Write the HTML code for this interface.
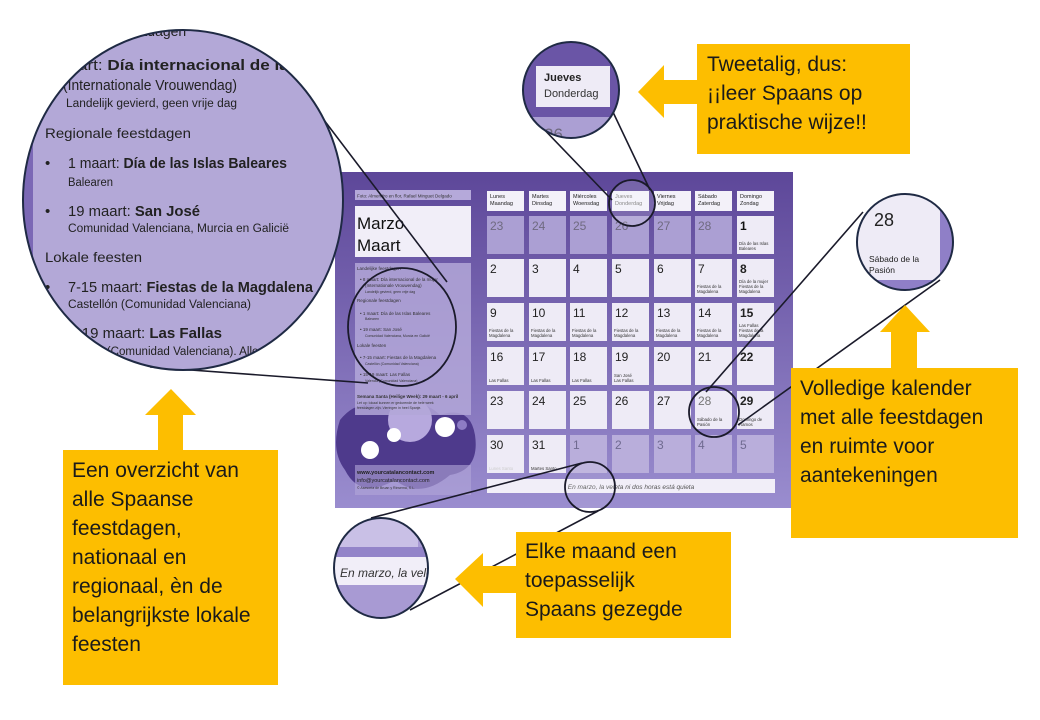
<!DOCTYPE html>
<html><head><meta charset="utf-8"><style>
html,body{margin:0;padding:0;background:#fff;}
svg{display:block;font-family:"Liberation Sans",sans-serif;}
</style></head><body>
<svg width="1040" height="720" viewBox="0 0 1040 720" xmlns="http://www.w3.org/2000/svg">
<defs>
<linearGradient id="cal" x1="0" y1="0" x2="0" y2="1">
<stop offset="0" stop-color="#5d4799"/><stop offset="1" stop-color="#9a8dcf"/>
</linearGradient>
<clipPath id="bigc"><ellipse cx="183" cy="200" rx="160" ry="170"/></clipPath>
<clipPath id="jc"><circle cx="571" cy="90" r="48"/></clipPath>
<clipPath id="sc"><circle cx="905" cy="242" r="48"/></clipPath>
<clipPath id="mc"><ellipse cx="381" cy="568" rx="47" ry="50"/></clipPath>
</defs>

<rect x="335" y="172" width="458" height="336" fill="url(#cal)"/>
<g>
<path d="M340 420 Q360 395 390 410 Q420 395 440 415 Q470 405 475 435 Q480 470 450 475 Q420 500 395 480 Q360 500 345 470 Q330 450 340 420Z" fill="#4e3a8c"/>
<circle cx="410" cy="420" r="22" fill="#b7a9de"/>
<circle cx="445" cy="427" r="10" fill="#fff"/>
<circle cx="370" cy="450" r="9" fill="#fff"/>
<circle cx="394" cy="435" r="7" fill="#fff"/>
<circle cx="462" cy="425" r="5" fill="#8d7cc4"/>
</g>
<rect x="355" y="190" width="116" height="10" fill="#b5a9da"/>
<text x="357" y="197.5" font-size="4.5" fill="#333">Foto: Almendro en flor, Rafael Minguet Delgado</text>
<rect x="355" y="206" width="116" height="51" fill="#f1eef8"/>
<text x="357" y="229" font-size="17" fill="#111">Marzo</text>
<text x="357" y="251" font-size="17" fill="#111">Maart</text>
<rect x="355" y="263" width="116" height="152" fill="#b3a7d8" opacity="0.85"/>
<g font-size="4.5" fill="#333">
<text x="357" y="270">Landelijke feestdagen</text>
<text x="360" y="281">• 8 maart: Día internacional de la mujer</text>
<text x="365" y="287">(Internationale Vrouwendag)</text>
<text x="365" y="293" font-size="3.5">Landelijk gevierd, geen vrije dag</text>
<text x="357" y="302">Regionale feestdagen</text>
<text x="360" y="315">• 1 maart: Día de las Islas Baleares</text>
<text x="365" y="320" font-size="3.5">Balearen</text>
<text x="360" y="331">• 19 maart: San José</text>
<text x="365" y="337" font-size="3.5">Comunidad Valenciana, Murcia en Galicië</text>
<text x="357" y="347">Lokale feesten</text>
<text x="360" y="359">• 7-15 maart: Fiestas de la Magdalena</text>
<text x="365" y="365" font-size="3.5">Castellón (Comunidad Valenciana)</text>
<text x="360" y="376">• 15-19 maart: Las Fallas</text>
<text x="365" y="382" font-size="3.5">Valencia (Comunidad Valenciana)</text>
<text x="357" y="398" font-weight="bold">Semana Santa (Heilige Week): 29 maart - 6 april</text>
<text x="357" y="404" font-size="3.5">Let op: lokaal kunnen er gedurende de hele week</text>
<text x="357" y="409" font-size="3.5">feestdagen zijn. Vieringen in heel Spanje.</text>
</g>
<rect x="355" y="465" width="116" height="30" fill="#b3a7d8" opacity="0.6"/>
<text x="357" y="474" font-size="5.5" font-weight="bold" fill="#222">www.yourcatalancontact.com</text>
<text x="357" y="482" font-size="5.5" fill="#222">info@yourcatalancontact.com</text>
<text x="357" y="489" font-size="3.5" fill="#333">© Asesoría de Bruan y Rinsema, S.L.</text>

<g font-size="5.5" fill="#222">
<rect x="487" y="191" width="37" height="20" fill="#f3f1f9"/><text x="490" y="198">Lunes</text><text x="490" y="205">Maandag</text>
<rect x="529" y="191" width="37" height="20" fill="#f3f1f9"/><text x="532" y="198">Martes</text><text x="532" y="205">Dinsdag</text>
<rect x="570" y="191" width="37" height="20" fill="#f3f1f9"/><text x="573" y="198">Miércoles</text><text x="573" y="205">Woensdag</text>
<rect x="612" y="191" width="37" height="20" fill="#f3f1f9"/><text x="615" y="198" fill="#777">Jueves</text><text x="615" y="205" fill="#777">Donderdag</text>
<rect x="654" y="191" width="37" height="20" fill="#f3f1f9"/><text x="657" y="198">Viernes</text><text x="657" y="205">Vrijdag</text>
<rect x="695" y="191" width="37" height="20" fill="#f3f1f9"/><text x="698" y="198">Sábado</text><text x="698" y="205">Zaterdag</text>
<rect x="737" y="191" width="37" height="20" fill="#f3f1f9"/><text x="740" y="198">Domingo</text><text x="740" y="205">Zondag</text>
</g>
<g font-size="12">
<g fill="#ab9fd3"><rect x="487" y="216" width="37" height="38"/><rect x="529" y="216" width="37" height="38"/><rect x="570" y="216" width="37" height="38"/><rect x="612" y="216" width="37" height="38"/><rect x="654" y="216" width="37" height="38"/><rect x="695" y="216" width="37" height="38"/></g>
<rect x="737" y="216" width="37" height="38" fill="#eeebf6"/>
<g fill="#6f6a80"><text x="490" y="230">23</text><text x="532" y="230">24</text><text x="573" y="230">25</text><text x="615" y="230">26</text><text x="657" y="230">27</text><text x="698" y="230">28</text></g>
<text x="740" y="230" font-weight="bold" fill="#111">1</text>
<g fill="#eeebf6">
<rect x="487" y="259" width="37" height="38"/><rect x="529" y="259" width="37" height="38"/><rect x="570" y="259" width="37" height="38"/><rect x="612" y="259" width="37" height="38"/><rect x="654" y="259" width="37" height="38"/><rect x="695" y="259" width="37" height="38"/><rect x="737" y="259" width="37" height="38"/>
<rect x="487" y="303" width="37" height="38"/><rect x="529" y="303" width="37" height="38"/><rect x="570" y="303" width="37" height="38"/><rect x="612" y="303" width="37" height="38"/><rect x="654" y="303" width="37" height="38"/><rect x="695" y="303" width="37" height="38"/><rect x="737" y="303" width="37" height="38"/>
<rect x="487" y="347" width="37" height="38"/><rect x="529" y="347" width="37" height="38"/><rect x="570" y="347" width="37" height="38"/><rect x="612" y="347" width="37" height="38"/><rect x="654" y="347" width="37" height="38"/><rect x="695" y="347" width="37" height="38"/><rect x="737" y="347" width="37" height="38"/>
<rect x="487" y="391" width="37" height="38"/><rect x="529" y="391" width="37" height="38"/><rect x="570" y="391" width="37" height="38"/><rect x="612" y="391" width="37" height="38"/><rect x="654" y="391" width="37" height="38"/><rect x="695" y="391" width="37" height="38"/><rect x="737" y="391" width="37" height="38"/>
<rect x="487" y="435" width="37" height="38"/><rect x="529" y="435" width="37" height="38"/>
</g>
<g fill="#b9aedb"><rect x="570" y="435" width="37" height="38"/><rect x="612" y="435" width="37" height="38"/><rect x="654" y="435" width="37" height="38"/><rect x="695" y="435" width="37" height="38"/><rect x="737" y="435" width="37" height="38"/></g>
<g fill="#222">
<text x="490" y="273">2</text><text x="532" y="273">3</text><text x="573" y="273">4</text><text x="615" y="273">5</text><text x="657" y="273">6</text><text x="698" y="273">7</text><text x="740" y="273" font-weight="bold">8</text>
<text x="490" y="317">9</text><text x="532" y="317">10</text><text x="573" y="317">11</text><text x="615" y="317">12</text><text x="657" y="317">13</text><text x="698" y="317">14</text><text x="740" y="317" font-weight="bold">15</text>
<text x="490" y="361">16</text><text x="532" y="361">17</text><text x="573" y="361">18</text><text x="615" y="361">19</text><text x="657" y="361">20</text><text x="698" y="361">21</text><text x="740" y="361" font-weight="bold">22</text>
<text x="490" y="405">23</text><text x="532" y="405">24</text><text x="573" y="405">25</text><text x="615" y="405">26</text><text x="657" y="405">27</text><text x="698" y="405" fill="#777">28</text><text x="740" y="405" font-weight="bold">29</text>
<text x="490" y="449">30</text><text x="532" y="449">31</text>
</g>
<g fill="#6f6a90"><text x="573" y="449">1</text><text x="615" y="449">2</text><text x="657" y="449">3</text><text x="698" y="449">4</text><text x="740" y="449">5</text></g>
</g>
<g font-size="4.3" fill="#333">
<text x="739" y="245">Día de las Islas</text><text x="739" y="250">Baleares</text>
<text x="697" y="288">Fiestas de la</text><text x="697" y="293">Magdalena</text>
<text x="739" y="283">Día de la mujer</text><text x="739" y="288">Fiestas de la</text><text x="739" y="293">Magdalena</text>
<text x="489" y="332">Fiestas de la</text><text x="489" y="337">Magdalena</text>
<text x="531" y="332">Fiestas de la</text><text x="531" y="337">Magdalena</text>
<text x="572" y="332">Fiestas de la</text><text x="572" y="337">Magdalena</text>
<text x="614" y="332">Fiestas de la</text><text x="614" y="337">Magdalena</text>
<text x="656" y="332">Fiestas de la</text><text x="656" y="337">Magdalena</text>
<text x="697" y="332">Fiestas de la</text><text x="697" y="337">Magdalena</text>
<text x="739" y="327">Las Fallas</text><text x="739" y="332">Fiestas de la</text><text x="739" y="337">Magdalena</text>
<text x="489" y="382">Las Fallas</text><text x="531" y="382">Las Fallas</text><text x="572" y="382">Las Fallas</text>
<text x="614" y="377">San José</text><text x="614" y="382">Las Fallas</text>
<text x="697" y="421">Sábado de la</text><text x="697" y="426">Pasión</text>
<text x="739" y="421">Domingo de</text><text x="739" y="426">Ramos</text>
<text x="489" y="470" fill="#ccc">Lunes Santo</text><text x="531" y="470">Martes Santo</text>
</g>
<rect x="487" y="479" width="288" height="14" fill="#f1eef8"/>
<text x="631" y="489" font-size="6.5" font-style="italic" fill="#555" text-anchor="middle">En marzo, la veleta ni dos horas está quieta</text>

<g fill="none" stroke="#1a1a2a" stroke-width="1.8">
<circle cx="632" cy="203" r="23" fill="#fff" fill-opacity="0.15"/>
<ellipse cx="402" cy="327" rx="54" ry="59"/>
<circle cx="714" cy="412" r="25"/>
<circle cx="590" cy="487" r="25" fill="#fff" fill-opacity="0.1"/>
</g>

<g stroke="#1a1a2a" stroke-width="1.6" fill="none">
<line x1="305" y1="95" x2="447" y2="282"/>
<line x1="150" y1="367" x2="368" y2="383"/>
<line x1="537" y1="122" x2="612" y2="200"/>
<line x1="612" y1="110" x2="650" y2="190"/>
<line x1="706" y1="392" x2="863" y2="212"/>
<line x1="738" y1="425" x2="940" y2="280"/>
<line x1="371" y1="518" x2="582" y2="463"/>
<line x1="410" y1="610" x2="598" y2="511"/>
</g>

<g clip-path="url(#bigc)">
<rect x="0" y="0" width="400" height="400" fill="#b3a8d7"/>
<rect x="0" y="0" width="33" height="400" fill="#7b68b5"/>
<g fill="#222" font-size="15">
<text x="50" y="36" font-size="14">Landelijke feestdagen</text>
<text x="40" y="70" textLength="300" lengthAdjust="spacingAndGlyphs">8 maart: <tspan font-weight="bold">Día internacional de la mujer</tspan></text>
<text x="63" y="90" textLength="174" lengthAdjust="spacingAndGlyphs">(Internationale Vrouwendag)</text>
<text x="66" y="107" font-size="11.5" textLength="171" lengthAdjust="spacingAndGlyphs">Landelijk gevierd, geen vrije dag</text>
<text x="45" y="138" font-size="14" textLength="146" lengthAdjust="spacingAndGlyphs">Regionale feestdagen</text>
<text x="45" y="168">•</text><text x="68" y="168" textLength="219" lengthAdjust="spacingAndGlyphs">1 maart: <tspan font-weight="bold">Día de las Islas Baleares</tspan></text>
<text x="68" y="186" font-size="11.5" textLength="45" lengthAdjust="spacingAndGlyphs">Balearen</text>
<text x="45" y="216">•</text><text x="68" y="216" textLength="132" lengthAdjust="spacingAndGlyphs">19 maart: <tspan font-weight="bold">San José</tspan></text>
<text x="68" y="232" font-size="11.5" textLength="221" lengthAdjust="spacingAndGlyphs">Comunidad Valenciana, Murcia en Galicië</text>
<text x="45" y="262" font-size="14" textLength="97" lengthAdjust="spacingAndGlyphs">Lokale feesten</text>
<text x="45" y="292">•</text><text x="68" y="292" textLength="245" lengthAdjust="spacingAndGlyphs">7-15 maart: <tspan font-weight="bold">Fiestas de la Magdalena</tspan></text>
<text x="68" y="308" font-size="11.5" textLength="183" lengthAdjust="spacingAndGlyphs">Castellón (Comunidad Valenciana)</text>
<text x="45" y="338">•</text><text x="60" y="338" textLength="162" lengthAdjust="spacingAndGlyphs">15-19 maart: <tspan font-weight="bold">Las Fallas</tspan></text>
<text x="60" y="355" font-size="11.5" textLength="250" lengthAdjust="spacingAndGlyphs">Valencia (Comunidad Valenciana). Alleen de 19e</text>
</g>
</g>
<ellipse cx="183" cy="200" rx="160" ry="170" fill="none" stroke="#1f2a44" stroke-width="2"/>

<g clip-path="url(#jc)">
<rect x="520" y="40" width="105" height="102" fill="#6a55a6"/>
<rect x="536" y="66" width="74" height="41" fill="#eeebf6"/>
<text x="544" y="81" font-size="11" font-weight="bold" fill="#222">Jueves</text>
<text x="544" y="97" font-size="11" fill="#333">Donderdag</text>
<rect x="520" y="117" width="105" height="30" fill="#ab9fd3"/>
<text x="544" y="140" font-size="17" fill="#6f6a80">26</text>
</g>
<circle cx="571" cy="90" r="48" fill="none" stroke="#1f2a44" stroke-width="2"/>

<g clip-path="url(#sc)">
<rect x="855" y="192" width="102" height="102" fill="#8f7fc7"/>
<rect x="855" y="195" width="85" height="85" fill="#eeebf6"/>
<text x="874" y="226" font-size="18" fill="#222">28</text>
<text x="869" y="262" font-size="8.5" fill="#222">Sábado de la</text>
<text x="869" y="273" font-size="8.5" fill="#222">Pasión</text>
</g>
<circle cx="905" cy="242" r="48" fill="none" stroke="#1f2a44" stroke-width="2"/>

<g clip-path="url(#mc)">
<rect x="330" y="515" width="100" height="110" fill="#a89ad3"/>
<rect x="330" y="518" width="88" height="29" fill="#c9c0e6"/>
<rect x="330" y="547" width="100" height="10" fill="#9384c9"/>
<rect x="330" y="557" width="100" height="28" fill="#f1eef8"/>
<text x="340" y="577" font-size="12" font-style="italic" fill="#333">En marzo, la veleta</text>
</g>
<ellipse cx="381" cy="568" rx="47" ry="50" fill="none" stroke="#1f2a44" stroke-width="2"/>

<g fill="#fdbe00">
<rect x="697" y="44" width="213" height="110"/>
<polygon points="638,92 664,65 664,80 697,80 697,104 664,104 664,118"/>
<rect x="791" y="368" width="227" height="170"/>
<polygon points="905,305 930,332 917,332 917,368 891,368 891,332 880,332"/>
<rect x="63" y="450" width="215" height="235"/>
<polygon points="171,389 196,415 183,415 183,450 158,450 158,415 145,415"/>
<rect x="516" y="532" width="215" height="106"/>
<polygon points="455,579 483,553 483,566 516,566 516,593 483,593 483,607"/>
</g>
<g fill="#1a1a1a" font-size="21">
<text x="707" y="71">Tweetalig, dus:</text>
<text x="707" y="100">¡¡leer Spaans op</text>
<text x="707" y="129">praktische wijze!!</text>
<text x="800" y="395">Volledige kalender</text>
<text x="800" y="424">met alle feestdagen</text>
<text x="800" y="453">en ruimte voor</text>
<text x="800" y="482">aantekeningen</text>
<text x="72" y="477">Een overzicht van</text>
<text x="72" y="506">alle Spaanse</text>
<text x="72" y="535">feestdagen,</text>
<text x="72" y="564">nationaal en</text>
<text x="72" y="593">regionaal, èn de</text>
<text x="72" y="622">belangrijkste lokale</text>
<text x="72" y="651">feesten</text>
<text x="525" y="558">Elke maand een</text>
<text x="525" y="587">toepasselijk</text>
<text x="525" y="616">Spaans gezegde</text>
</g>
</svg>
</body></html>
